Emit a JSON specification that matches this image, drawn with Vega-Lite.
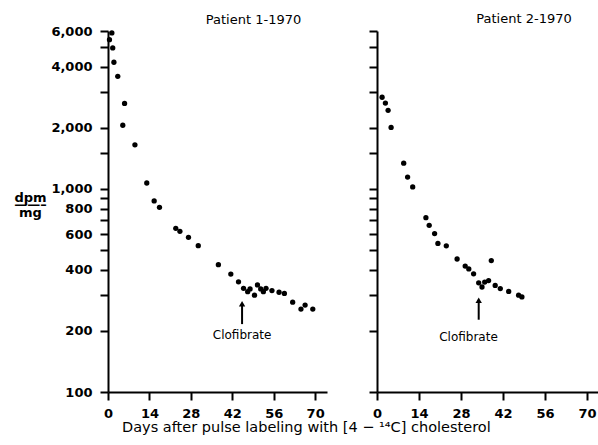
{
  "$schema": "https://vega.github.io/schema/vega-lite/v6.json",
  "background": "white",
  "padding": {"left": 13, "top": 13, "right": 0, "bottom": 3},
  "spacing": 41,
  "config": {
    "view": {"stroke": null},
    "font": "DejaVu Sans",
    "axis": {
      "grid": false,
      "domainColor": "black",
      "domainWidth": 2,
      "tickColor": "black",
      "tickWidth": 2,
      "tickSize": 8,
      "labelColor": "black",
      "labelFont": "DejaVu Sans",
      "labelFontSize": 13,
      "labelFontWeight": "bold",
      "labelPadding": 8,
      "labelOverlap": false,
      "labelFlush": false
    },
    "title": {"color": "black", "font": "DejaVu Sans", "fontWeight": "normal"}
  },
  "title": {
    "text": "Days after pulse labeling with [4 − ¹⁴C] cholesterol",
    "orient": "bottom",
    "anchor": "middle",
    "fontSize": 14.5,
    "offset": 1
  },
  "datasets": {
    "p1": [
      {"day": 0.5, "dpm": 5440},
      {"day": 1.3, "dpm": 5870},
      {"day": 1.6, "dpm": 4950},
      {"day": 2.0, "dpm": 4210},
      {"day": 3.3, "dpm": 3590},
      {"day": 5.6, "dpm": 2640},
      {"day": 5.0, "dpm": 2060},
      {"day": 9.1, "dpm": 1650},
      {"day": 13.1, "dpm": 1070},
      {"day": 15.6, "dpm": 873},
      {"day": 17.4, "dpm": 812},
      {"day": 22.9, "dpm": 640},
      {"day": 24.3, "dpm": 619},
      {"day": 27.2, "dpm": 578},
      {"day": 30.5, "dpm": 526},
      {"day": 37.3, "dpm": 424},
      {"day": 41.5, "dpm": 381},
      {"day": 44.1, "dpm": 349},
      {"day": 45.8, "dpm": 324},
      {"day": 47.2, "dpm": 312},
      {"day": 48.0, "dpm": 322},
      {"day": 49.5, "dpm": 300},
      {"day": 50.5, "dpm": 337},
      {"day": 51.6, "dpm": 322},
      {"day": 52.5, "dpm": 312},
      {"day": 53.4, "dpm": 324},
      {"day": 55.4, "dpm": 316},
      {"day": 57.8, "dpm": 310},
      {"day": 59.6, "dpm": 306},
      {"day": 62.4, "dpm": 277},
      {"day": 65.2, "dpm": 256},
      {"day": 66.6, "dpm": 268},
      {"day": 69.2, "dpm": 256}
    ],
    "p2": [
      {"day": 1.7, "dpm": 2830},
      {"day": 2.8, "dpm": 2650},
      {"day": 3.7, "dpm": 2440},
      {"day": 4.7, "dpm": 2010},
      {"day": 8.9, "dpm": 1340},
      {"day": 10.2, "dpm": 1145},
      {"day": 11.9, "dpm": 1023},
      {"day": 16.3, "dpm": 722},
      {"day": 17.4, "dpm": 662},
      {"day": 19.2, "dpm": 603},
      {"day": 20.3, "dpm": 539},
      {"day": 23.1, "dpm": 525},
      {"day": 26.7, "dpm": 452},
      {"day": 29.4, "dpm": 417},
      {"day": 30.6, "dpm": 404},
      {"day": 32.2, "dpm": 382},
      {"day": 33.9, "dpm": 345},
      {"day": 35.0, "dpm": 329},
      {"day": 35.9, "dpm": 348},
      {"day": 37.2, "dpm": 354},
      {"day": 38.1, "dpm": 444},
      {"day": 39.4, "dpm": 335},
      {"day": 41.1, "dpm": 323},
      {"day": 43.9, "dpm": 313},
      {"day": 47.2, "dpm": 300},
      {"day": 48.3, "dpm": 294}
    ],
    "a1": [{"day": 45.3, "lo": 216, "hi": 272, "tday": 45.3, "ty": 191, "label": "Clofibrate"}],
    "a2": [{"day": 33.9, "lo": 227, "hi": 283, "tday": 30.5, "ty": 187, "label": "Clofibrate"}]
  },
  "hconcat": [
    {
      "width": 219,
      "height": 361,
      "title": {"text": "Patient 1-1970", "fontSize": 13, "dx": 36, "offset": -2},
      "layer": [
        {
          "data": {"name": "p1"},
          "mark": {"type": "circle", "size": 28, "color": "black", "opacity": 1},
          "encoding": {
            "x": {
              "field": "day", "type": "quantitative",
              "scale": {"domain": [0, 74], "nice": false, "zero": false},
              "axis": {
                "title": null,
                "labelPadding": 7,
                "values": [0, 7, 14, 21, 28, 35, 42, 49, 56, 63, 70],
                "labelExpr": "datum.value % 14 === 0 ? datum.label : ''"
              }
            },
            "y": {
              "field": "dpm", "type": "quantitative",
              "scale": {"type": "log", "domain": [100, 6000], "nice": false},
              "axis": {
                "values": [100, 200, 300, 400, 500, 600, 700, 800, 900, 1000, 1500, 2000, 3000, 4000, 5000, 6000],
                "labelExpr": "indexof([100, 200, 400, 600, 800, 1000, 2000, 4000, 6000], datum.value) >= 0 ? format(datum.value, ',') : ''",
                "title": ["dpm", "——–", "mg"],
                "titleAngle": 0,
                "titleAlign": "center",
                "titleBaseline": "middle",
                "titleX": -78,
                "titleY": 166,
                "titleFontSize": 13,
                "titleFontWeight": "bold",
                "titleLineHeight": 7.5
              }
            }
          }
        },
        {
          "data": {"name": "a1"},
          "mark": {"type": "rule", "strokeWidth": 2, "color": "black"},
          "encoding": {
            "x": {"field": "day", "type": "quantitative"},
            "y": {"field": "lo", "type": "quantitative"},
            "y2": {"field": "hi"}
          }
        },
        {
          "data": {"name": "a1"},
          "mark": {"type": "point", "shape": "triangle-up", "filled": true, "size": 40, "color": "black", "opacity": 1},
          "encoding": {
            "x": {"field": "day", "type": "quantitative"},
            "y": {"field": "hi", "type": "quantitative"}
          }
        },
        {
          "data": {"name": "a1"},
          "mark": {"type": "text", "fontSize": 12, "baseline": "middle", "color": "black"},
          "encoding": {
            "x": {"field": "tday", "type": "quantitative"},
            "y": {"field": "ty", "type": "quantitative"},
            "text": {"field": "label"}
          }
        }
      ]
    },
    {
      "width": 222,
      "height": 361,
      "title": {"text": "Patient 2-1970", "fontSize": 13, "dx": 36, "offset": 4},
      "layer": [
        {
          "data": {"name": "p2"},
          "mark": {"type": "circle", "size": 28, "color": "black", "opacity": 1},
          "encoding": {
            "x": {
              "field": "day", "type": "quantitative",
              "scale": {"domain": [0, 74], "nice": false, "zero": false},
              "axis": {
                "title": null,
                "labelPadding": 7,
                "values": [0, 7, 14, 21, 28, 35, 42, 49, 56, 63, 70],
                "labelExpr": "datum.value % 14 === 0 ? datum.label : ''"
              }
            },
            "y": {
              "field": "dpm", "type": "quantitative",
              "scale": {"type": "log", "domain": [100, 6000], "nice": false},
              "axis": {
                "values": [100, 200, 300, 400, 500, 600, 700, 800, 900, 1000, 1500, 2000, 3000, 4000, 5000, 6000],
                "labels": false,
                "title": null
              }
            }
          }
        },
        {
          "data": {"name": "a2"},
          "mark": {"type": "rule", "strokeWidth": 2, "color": "black"},
          "encoding": {
            "x": {"field": "day", "type": "quantitative"},
            "y": {"field": "lo", "type": "quantitative"},
            "y2": {"field": "hi"}
          }
        },
        {
          "data": {"name": "a2"},
          "mark": {"type": "point", "shape": "triangle-up", "filled": true, "size": 40, "color": "black", "opacity": 1},
          "encoding": {
            "x": {"field": "day", "type": "quantitative"},
            "y": {"field": "hi", "type": "quantitative"}
          }
        },
        {
          "data": {"name": "a2"},
          "mark": {"type": "text", "fontSize": 12, "baseline": "middle", "color": "black"},
          "encoding": {
            "x": {"field": "tday", "type": "quantitative"},
            "y": {"field": "ty", "type": "quantitative"},
            "text": {"field": "label"}
          }
        }
      ]
    }
  ]
}
